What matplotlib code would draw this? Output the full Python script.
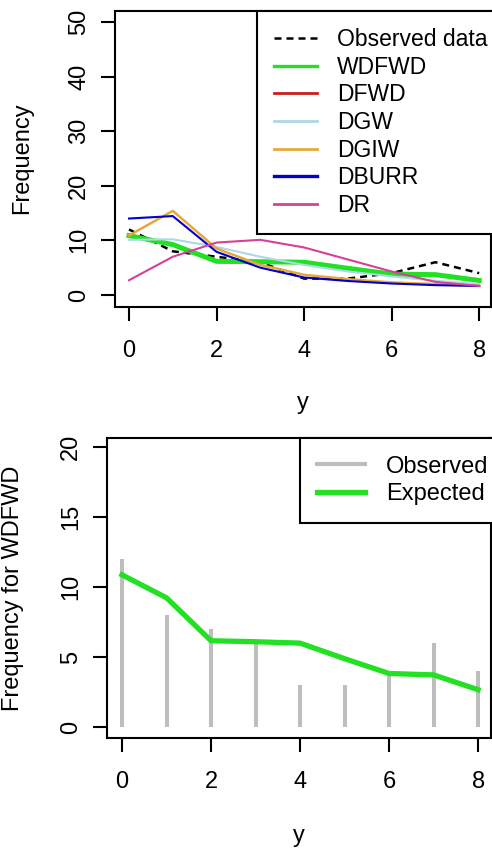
import matplotlib
matplotlib.use('Agg')
import matplotlib.pyplot as plt
from matplotlib.lines import Line2D

plt.rcParams['font.family'] = ['Liberation Sans', 'DejaVu Sans']

# ---- data ----
y_vals = [0, 1, 2, 3, 4, 5, 6, 7, 8]
observed = [12, 8, 7, 6, 3, 3, 4, 6, 4]
wdfwd = [10.87, 9.23, 6.16, 6.09, 5.99, 4.88, 3.82, 3.72, 2.66]
dfwd = [10.8, 9.3, 6.2, 6.05, 5.95, 4.9, 3.85, 3.7, 2.7]
dgw = [10.1, 10.2, 8.8, 7.0, 5.5, 4.3, 3.4, 2.6, 2.0]
dgiw = [10.9, 15.4, 8.5, 5.5, 3.7, 2.9, 2.3, 2.0, 1.65]
dburr = [14.0, 14.45, 7.9, 5.0, 3.2, 2.56, 2.1, 1.8, 1.65]
dr = [2.7, 7.0, 9.6, 10.1, 8.7, 6.5, 4.3, 2.4, 1.65]

x_ticks = [0, 2, 4, 6, 8]
top_yticks = [0, 10, 20, 30, 40, 50]
bot_yticks = [0, 5, 10, 15, 20]

C_GREEN = '#22E022'
C_RED = '#C8201E'
C_LBLUE = '#ADD8E6'
C_ORANGE = '#E6A83A'
C_BLUE = '#0000CC'
C_PINK = '#D6409A'
C_GRAY = '#BEBEBE'

FS = 17
W, H = 492, 850
fig = plt.figure(figsize=(W / 100, H / 100), dpi=100)


def box(l, t, r, b):
    return [l / W, 1 - b / H, (r - l) / W, (b - t) / H]


def style(ax):
    for s in ax.spines.values():
        s.set_linewidth(1.5)
    ax.tick_params(direction='out', length=10, width=1.5, labelsize=FS)
    ax.tick_params(axis='x', pad=14)
    ax.tick_params(axis='y', pad=8)
    for lab in ax.get_yticklabels():
        lab.set_rotation(90)
        lab.set_va('center')


# ---- top panel ----
ax1 = fig.add_axes(box(115, 11, 491, 307))
l_obs, = ax1.plot(y_vals, observed, color='black', lw=1.8, ls=(0, (2.8, 2.0)),
                  label='Observed data', zorder=2)
l_dfwd, = ax1.plot(y_vals, dfwd, color=C_RED, lw=1.5, label='DFWD', zorder=2.1)
l_wd, = ax1.plot(y_vals, wdfwd, color=C_GREEN, lw=3.6, label='WDFWD', zorder=2.2)
l_dgw, = ax1.plot(y_vals, dgw, color=C_LBLUE, lw=1.5, label='DGW', zorder=2.3)
l_dgiw, = ax1.plot(y_vals, dgiw, color=C_ORANGE, lw=1.8, label='DGIW', zorder=2.4)
l_dburr, = ax1.plot(y_vals, dburr, color=C_BLUE, lw=1.5, label='DBURR', zorder=2.5)
l_dr, = ax1.plot(y_vals, dr, color=C_PINK, lw=1.5, label='DR', zorder=2.6)
ax1.set_xlim(-0.32, 8.27)
ax1.set_ylim(-2.2, 52.0)
ax1.set_xticks(x_ticks)
ax1.set_yticks(top_yticks)
style(ax1)
ax1.set_xlabel('y', fontsize=FS)
ax1.xaxis.label.set_va('baseline')
ax1.xaxis.set_label_coords(303 / W, 1 - 409 / H, transform=fig.transFigure)
ax1.set_ylabel('Frequency', fontsize=FS)
ax1.yaxis.set_label_coords(33 / W, 1 - 158.5 / H, transform=fig.transFigure)

h_wd = Line2D([], [], color=C_GREEN, lw=2.4)
h_dfwd = Line2D([], [], color=C_RED, lw=2.0)
h_dgw = Line2D([], [], color=C_LBLUE, lw=2.0)
h_dgiw = Line2D([], [], color=C_ORANGE, lw=2.0)
h_dburr = Line2D([], [], color=C_BLUE, lw=2.4)
h_dr = Line2D([], [], color=C_PINK, lw=2.0)
leg1 = ax1.legend([l_obs, h_wd, h_dfwd, h_dgw, h_dgiw, h_dburr, h_dr],
                  ['Observed data', 'WDFWD', 'DFWD', 'DGW', 'DGIW', 'DBURR', 'DR'],
                  loc='upper right', bbox_to_anchor=(1.036, 1.0), borderaxespad=0,
                  fancybox=False, edgecolor='black', framealpha=1, fontsize=16.5,
                  handlelength=1.9, handletextpad=0.85, labelspacing=0.2,
                  borderpad=0.75)
leg1.get_frame().set_linewidth(1.5)

# ---- bottom panel ----
ax2 = fig.add_axes(box(107, 438, 491, 738))
ax2.vlines(y_vals, 0, observed, color=C_GRAY, lw=2.9, zorder=2)
ax2.plot(y_vals, wdfwd, color=C_GREEN, lw=3.8, zorder=3)
ax2.set_xlim(-0.337, 8.29)
ax2.set_ylim(-0.79, 20.65)
ax2.set_xticks(x_ticks)
ax2.set_yticks(bot_yticks)
style(ax2)
ax2.set_xlabel('y', fontsize=FS)
ax2.xaxis.label.set_va('baseline')
ax2.xaxis.set_label_coords(299 / W, 1 - 842 / H, transform=fig.transFigure)
ax2.set_ylabel('Frequency for WDFWD', fontsize=FS)
ax2.yaxis.set_label_coords(24 / W, 1 - 588 / H, transform=fig.transFigure)

g1 = Line2D([], [], color=C_GRAY, lw=3.0)
g2 = Line2D([], [], color=C_GREEN, lw=3.8)
leg2 = ax2.legend([g1, g2], ['Observed', 'Expected'],
                  loc='upper right', bbox_to_anchor=(1.039, 1.0), borderaxespad=0,
                  fancybox=False, edgecolor='black', framealpha=1, fontsize=FS,
                  handlelength=2.0, handletextpad=0.9, labelspacing=0.23,
                  borderpad=0.75)
leg2.get_frame().set_linewidth(1.5)

fig.savefig('out.png', dpi=100)
